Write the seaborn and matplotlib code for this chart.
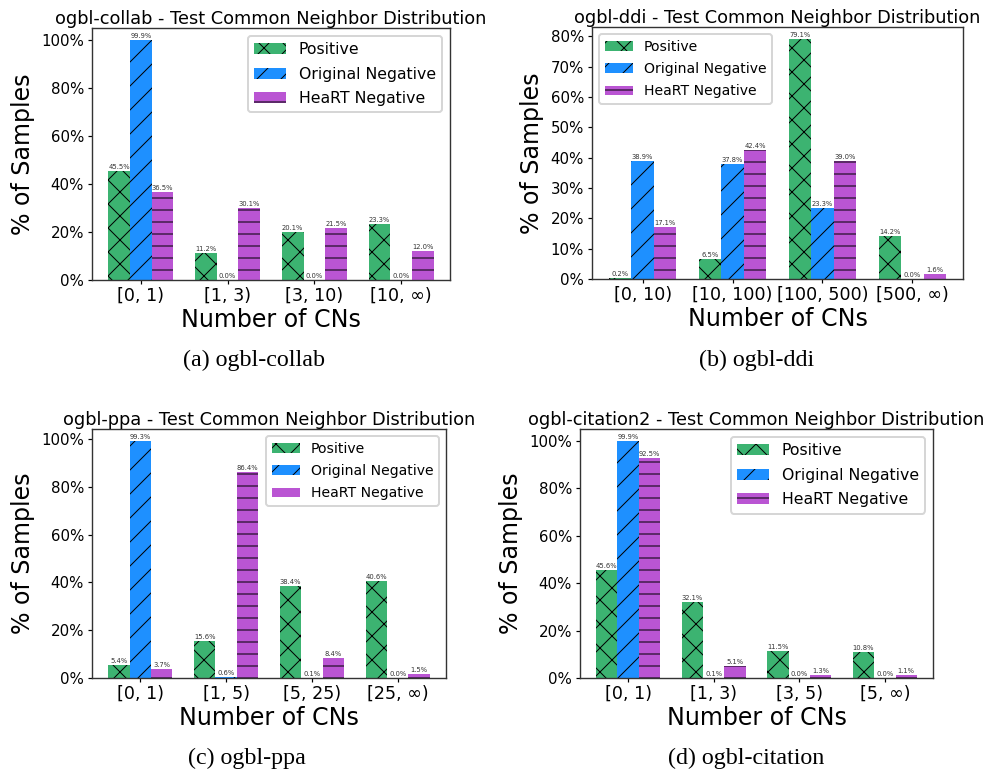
import numpy as np
import pandas as pd
import matplotlib
matplotlib.use('Agg')
import matplotlib.pyplot as plt
import matplotlib.patches as mpatches
from matplotlib.colors import to_rgba
import seaborn as sns
from matplotlib.ticker import PercentFormatter, MultipleLocator

plt.rcParams['font.family'] = ['DejaVu Sans']
plt.rcParams['hatch.linewidth'] = 0.5
plt.rcParams['axes.edgecolor'] = '0.2'
plt.rcParams['axes.linewidth'] = 0.7

# Data: % of samples per common-neighbor bin
series_names = ['Positive', 'Original Negative', 'HeaRT Negative']

collab_bins = ['[0, 1)', '[1, 3)', '[3, 10)', '[10, ∞)']
collab_pos = [45.5, 11.2, 20.1, 23.3]
collab_orig = [99.9, 0.0, 0.0, 0.0]
collab_heart = [36.5, 30.1, 21.5, 12.0]

ddi_bins = ['[0, 10)', '[10, 100)', '[100, 500)', '[500, ∞)']
ddi_pos = [0.2, 6.5, 79.1, 14.2]
ddi_orig = [38.9, 37.8, 23.3, 0.0]
ddi_heart = [17.1, 42.4, 39.0, 1.6]

ppa_bins = ['[0, 1)', '[1, 5)', '[5, 25)', '[25, ∞)']
ppa_pos = [5.4, 15.6, 38.4, 40.6]
ppa_orig = [99.3, 0.6, 0.1, 0.0]
ppa_heart = [3.7, 86.4, 8.4, 1.5]

cit_bins = ['[0, 1)', '[1, 3)', '[3, 5)', '[5, ∞)']
cit_pos = [45.6, 32.1, 11.5, 10.8]
cit_orig = [99.9, 0.1, 0.0, 0.0]
cit_heart = [92.5, 5.1, 1.3, 1.1]

colors = ['#3CB371', '#1E90FF', '#BA55D3']
hatches = ['xx', '//', '--']

W, H = 987, 772
DPI = 144
fig = plt.figure(figsize=(W / DPI, H / DPI), dpi=DPI)

# (name, bins, values, caption, axes box in px [left, top, right, bottom], legend loc, legend size, y step, caption pos)
panels = [
    ('ogbl-collab', collab_bins, [collab_pos, collab_orig, collab_heart], '(a) ogbl-collab',
     [92, 28, 450, 280], 'upper right', 7.9, 20, (254, 360)),
    ('ogbl-ddi', ddi_bins, [ddi_pos, ddi_orig, ddi_heart], '(b) ogbl-ddi',
     [592, 27, 963, 279], 'upper left', 7.0, 10, (757, 360)),
    ('ogbl-ppa', ppa_bins, [ppa_pos, ppa_orig, ppa_heart], '(c) ogbl-ppa',
     [92, 429, 446, 678], 'upper right', 7.0, 20, (247, 758)),
    ('ogbl-citation2', cit_bins, [cit_pos, cit_orig, cit_heart], '(d) ogbl-citation',
     [580, 429, 933, 678], 'upper right', 7.9, 20, (746, 758)),
]

group_width = 0.75

for name, bins, vals, caption, box, loc, lsize, ystep, cpos in panels:
    l, t, r, b = box
    ax = fig.add_axes([l / W, 1 - b / H, (r - l) / W, (b - t) / H])

    df = pd.DataFrame({
        'bin': bins * 3,
        'type': np.repeat(series_names, len(bins)),
        'pct': vals[0] + vals[1] + vals[2],
    })
    sns.barplot(data=df, x='bin', y='pct', hue='type', order=bins,
                hue_order=series_names, palette=colors, saturation=1,
                width=group_width, errorbar=None, edgecolor='black',
                linewidth=0, legend=False, ax=ax)

    for cont, h, c in zip(ax.containers, hatches, colors):
        for p in cont:
            p.set_hatch(h)
            # light edge in the bar colour, black hatch (only if supported)
            if hasattr(p, 'set_hatchcolor'):
                p.set_hatchcolor('black')
                p.set_edgecolor(to_rgba(c, 0.45))
                p.set_linewidth(0.6)
        ax.bar_label(cont, fmt='%.1f%%', fontsize=3.4, padding=0.5, color='0.2')

    pad = 0.05 * (len(bins) - 1 + group_width)
    ax.set_xlim(-group_width / 2 - pad, len(bins) - 1 + group_width / 2 + pad)
    ax.margins(y=0.05)
    ax.yaxis.set_major_locator(MultipleLocator(ystep))
    ax.yaxis.set_major_formatter(PercentFormatter(decimals=0))

    ax.set_title(f'{name} - Test Common Neighbor Distribution', fontsize=8.9, pad=2)
    ax.set_xlabel('Number of CNs', fontsize=11.85, labelpad=1.5)
    ax.set_ylabel('% of Samples', fontsize=11.85, labelpad=3)
    ax.tick_params(axis='both', length=2, width=0.6)
    ax.tick_params(axis='x', labelsize=8.75, pad=1.5)
    ax.tick_params(axis='y', labelsize=7.5, pad=2)

    handles = [mpatches.Patch(facecolor=c, hatch=h, edgecolor='black', linewidth=0, label=s)
               for c, h, s in zip(colors, hatches, series_names)]
    ax.legend(handles=handles, loc=loc, fontsize=lsize, labelspacing=0.6)

    fig.text(cpos[0] / W, 1 - cpos[1] / H, caption, ha='center', va='center',
             fontsize=12, family='Liberation Serif')

fig.savefig('out.png', dpi=DPI, facecolor='white')
